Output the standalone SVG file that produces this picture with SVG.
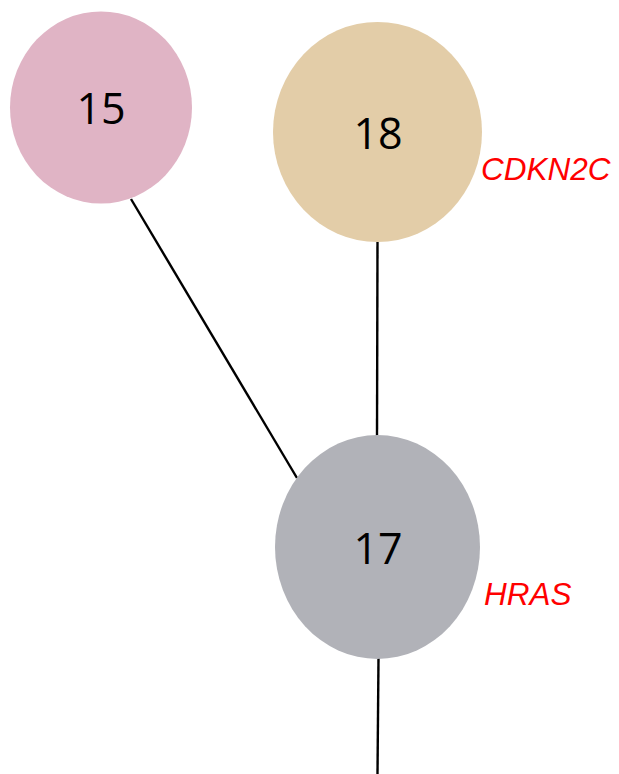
<svg xmlns="http://www.w3.org/2000/svg" width="619" height="774" viewBox="0 0 619 774">
<style>
.num{font-family:"Open Sans","Noto Sans",sans-serif;font-size:43px;fill:#000;text-anchor:middle}
.gene{font-family:"Liberation Sans",Arial,sans-serif;font-style:italic;font-size:31.5px;fill:#FF0000}
.edge{stroke:#000;stroke-width:2.4;fill:none}
</style>
<rect width="619" height="774" fill="#fff"/>
<g id="connectors">
<line class="edge" x1="131" y1="199" x2="297" y2="478"/>
<line class="edge" x1="377.5" y1="242" x2="377" y2="436"/>
<line class="edge" x1="378.5" y1="658" x2="377.5" y2="774"/>
</g>
<g id="node15">
<ellipse cx="101" cy="107.5" rx="91" ry="96" fill="#E0B4C5"/>
<text class="num" x="101" y="124">15</text>
</g>
<g id="node18">
<ellipse cx="377.5" cy="132" rx="104.5" ry="110" fill="#E3CDA8"/>
<text class="num" x="378" y="149">18</text>
<text class="gene" x="481" y="180">CDKN2C</text>
</g>
<g id="node17">
<ellipse cx="377.5" cy="547" rx="102.5" ry="112" fill="#B1B2B8"/>
<text class="num" x="378" y="564">17</text>
<text class="gene" x="484" y="605">HRAS</text>
</g>
</svg>
